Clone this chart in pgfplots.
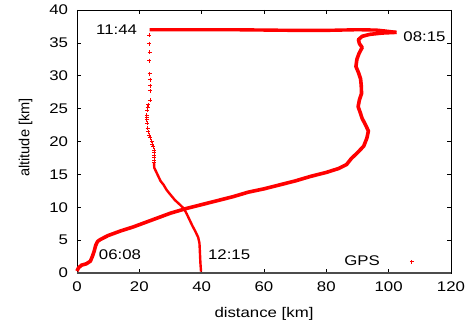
\documentclass[border=0pt]{standalone}
\usepackage{fontspec}
\setmainfont{Liberation Sans}[FakeStretch=1.2]
\newfontfamily\ylabfont{Liberation Sans}
\usepackage{pgfplots}
\pgfplotsset{compat=1.18}
\begin{document}
\begin{tikzpicture}
\path[use as bounding box] (-77bp,-56bp) rectangle (391bp,273bp);
\begin{axis}[at={(0,0)}, anchor=south west, scale only axis,
  width=374bp, height=263bp,
  xmin=0, xmax=120, ymin=0, ymax=40,
  xtick={0,20,...,120}, ytick={0,5,...,40},
  tick align=inside, major tick length=4bp,
  tick style={black, line width=0.6bp},
  axis line style={black, line width=0.8bp},
  /pgf/number format/assume math mode=true,
  tick label style={font=\fontsize{14bp}{16bp}\selectfont},
  xticklabel style={yshift=-5.4bp},
  yticklabel style={xshift=-5.4bp},
  xlabel={distance [km]},
  ylabel={\ylabfont\fontsize{14.6bp}{16bp}\selectfont altitude [km]},
  xlabel style={font=\fontsize{14bp}{16bp}\selectfont, at={(axis description cs:0.5,-0.118)}, anchor=north},
  ylabel style={at={(axis description cs:-0.11,0.515)}, anchor=south},
  clip=false,
  legend plot pos=right,
  legend style={draw=none, fill=none, at={(axis cs:109.1,1.7)}, anchor=east,
    font=\fontsize{14bp}{16bp}\selectfont, cells={anchor=east},
    /tikz/every odd column/.append style={column sep=28bp}},
]
\draw[line width=2.5bp, black!70] (axis cs:0,0) -- (axis cs:120,0);
% ascent
\addplot[red, line width=3.6bp, line join=round, no marks, forget plot] coordinates {
(0,0.3) (0.5,0.8) (1.5,1.2) (3,1.4) (4.3,1.8) (5,2.6) (5.5,3.3) (6,4.2) (6.6,4.8) (7.5,5.1)
(10,5.7) (14,6.4) (18,7.0) (22,7.7) (26,8.4) (30,9.1) (35,9.8) (40,10.4) (45,11.0) (50,11.6)
(55,12.3) (60,12.8) (65,13.4) (70,14.0) (75,14.7) (80,15.3) (84,15.9) (86.5,16.5) (88,17.4)
(90,18.3) (92,19.3) (93,20.5) (93.5,21.6) (92.5,22.6) (91.5,23.5) (90.8,24.5) (90.2,25.3)
(90.6,26.3) (91.3,27.3) (91.2,28.5) (91,29.5) (90.3,30.5) (89.5,31.4) (89.8,32.5) (90.5,33.4)
(91.5,34.3) (90.6,34.9) (90.3,35.5) (91.5,36.0) (94,36.3) (98,36.5) (102.5,36.6)
};
% float
\addplot[red, line width=3.4bp, line join=round, no marks, forget plot] coordinates {
(102.5,36.6) (99,36.8) (96,36.95) (90,37.0) (80,36.9) (70,36.9) (60,36.95)
(50,37.0) (40,37.0) (30,37.0) (23.3,37.0)
};
% descent lower part
\addplot[red, line width=2.4bp, line join=round, no marks, forget plot] coordinates {
(24.7,16.8) (24.8,16.0) (25.2,15.6) (26.0,14.8) (26.8,14.0) (27.8,13.4) (28.8,12.6) (30.0,11.9)
(31.4,11.1) (33.0,10.4) (34.3,9.8) (35.2,9.0) (36.0,8.2) (37.0,7.2) (37.9,6.4) (38.9,5.4)
(39.3,4.5) (39.4,3.5) (39.5,2.5) (39.6,1.5) (39.8,0.2)
};
% descent upper part, sparse marks
\addplot[red, only marks, mark=+, mark size=2bp, mark options={line width=0.8bp}]
coordinates {
(23.2,36.2) (23.2,34.9) (23.3,33.6) (23.2,32.3) (23.3,30.3) (23.4,29.4) (23.4,28.5) (23.4,27.7)
(23.4,26.3) (22.9,25.6) (22.7,25.2) (22.6,24.8) (22.4,24.0) (22.4,23.7) (22.4,23.3) (22.5,22.8)
(22.7,22.0) (22.9,21.5) (23.1,21.0) (23.4,20.6) (24.0,20.0) (24.2,19.6) (24.5,19.2) (24.7,18.7)
(24.8,18.3) (24.8,17.9) (24.7,17.6) (24.7,17.2) (24.7,16.8)
};
\addlegendentry{GPS}
\node[font=\fontsize{14bp}{16bp}\selectfont] at (axis cs:12.7,37.0) {11:44};
\node[font=\fontsize{14bp}{16bp}\selectfont] at (axis cs:111.5,36.0) {08:15};
\node[font=\fontsize{14bp}{16bp}\selectfont] at (axis cs:13.8,2.8) {06:08};
\node[font=\fontsize{14bp}{16bp}\selectfont] at (axis cs:48.8,2.8) {12:15};
\end{axis}
\end{tikzpicture}
\end{document}
